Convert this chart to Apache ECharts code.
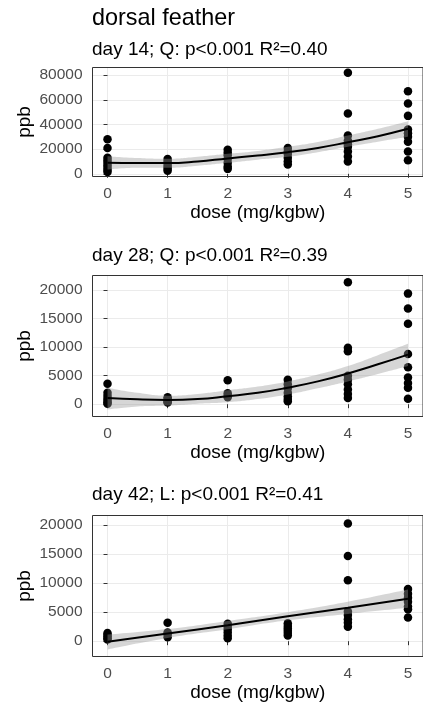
<!DOCTYPE html>
<html>
<head>
<meta charset="utf-8">
<script src="https://cdn.jsdelivr.net/npm/echarts@6/dist/echarts.min.js"></script>
<style>html,body{margin:0;padding:0;background:#fff}#c{width:423px;height:708px}</style>
</head>
<body>
<div id="c"></div>
<script>
// ---- data ----
const mainTitle = 'dorsal feather';
const panelTitles = ['day 14; Q: p<0.001 R²=0.40', 'day 28; Q: p<0.001 R²=0.39', 'day 42; L: p<0.001 R²=0.41'];
const doses = [0, 1, 2, 3, 4, 5];
const xTicks = [0, 1, 2, 3, 4, 5];
const yTicks14 = [0, 20000, 40000, 60000, 80000];
const yTicks28 = [0, 5000, 10000, 15000, 20000];
const yTicks42 = [0, 5000, 10000, 15000, 20000];

// observed values per dose (ppb)
const day14Values = [
  [28000, 21000, 13000, 11000, 9000, 7000, 5000, 3000, 1500],
  [12000, 10000, 8000, 6000, 4000, 2500],
  [19500, 17000, 15000, 12000, 9000, 6000, 4000],
  [21000, 18000, 16000, 13000, 10000, 7500],
  [82000, 49000, 31000, 27000, 24000, 22000, 18000, 14000, 10000],
  [67000, 57000, 47000, 36000, 33000, 30000, 26000, 18000, 11000]
];
const day28Values = [
  [3600, 2000, 1500, 1000, 600, 300, 100],
  [1200, 900, 600, 400, 300],
  [4200, 1900, 1500, 1200],
  [4300, 3500, 2800, 2000, 1400, 900, 500],
  [21400, 9900, 9300, 5000, 4300, 3500, 2600, 1800, 1100],
  [19400, 16800, 14100, 8800, 6500, 4700, 3700, 2900, 950]
];
const day42Values = [
  [1400, 1100, 800, 500, 300],
  [3200, 1500, 1200, 700],
  [3000, 2500, 2000, 1500, 1000, 500],
  [3100, 2600, 2200, 1800, 1400, 1000],
  [20300, 14700, 10500, 5100, 4500, 3800, 3200, 2500],
  [9000, 8200, 7500, 6800, 6000, 5500, 4100]
];

// fitted curves and confidence bands
const fitX = [0, 0.5, 1, 1.5, 2, 2.5, 3, 3.5, 4, 4.5, 5];
const day14Fit   = [8900, 8700, 8700, 10000, 12500, 14800, 17500, 21000, 25600, 30500, 36500];
const day14Lower = [3500, 5000, 4900, 6500, 8900, 11500, 13800, 17500, 21900, 26000, 30000];
const day14Upper = [14300, 12800, 12200, 13800, 16200, 18500, 21900, 25800, 31000, 36500, 42700];
const day28Fit   = [1100, 850, 750, 900, 1400, 2000, 2900, 4000, 5400, 7000, 8700];
const day28Lower = [-930, -400, -230, 100, 350, 900, 1700, 2800, 4000, 5300, 6700];
const day28Upper = [2900, 2000, 1500, 1800, 2450, 3100, 4000, 5200, 6700, 8600, 10600];
const fitX42 = [0, 1, 2, 3, 4, 5];
const day42Fit   = [-100, 1330, 2760, 4300, 5750, 7300];
const day42Lower = [-1430, 550, 2050, 3600, 4700, 5750];
const day42Upper = [1150, 2100, 3500, 5000, 6800, 8900];

// ---- layout / style ----
const FONT = 'Liberation Sans, Arial, sans-serif';
const panels = [
  {top: 67.5, height: 109, yMin: -2190, yMax: 86250, yTicks: yTicks14, values: day14Values, fx: fitX, fit: day14Fit, lo: day14Lower, hi: day14Upper, smooth: true, titleY: 49.4},
  {top: 275.5, height: 141, yMin: -2158, yMax: 22579, yTicks: yTicks28, values: day28Values, fx: fitX, fit: day28Fit, lo: day28Lower, hi: day28Upper, smooth: true, titleY: 255.3},
  {top: 515.5, height: 141, yMin: -2638, yMax: 21672, yTicks: yTicks42, values: day42Values, fx: fitX42, fit: day42Fit, lo: day42Lower, hi: day42Upper, smooth: true, titleY: 494.5}
];

const grid = [], xAxis = [], yAxis = [], series = [], graphic = [];
graphic.push({type: 'text', x: 92, y: 18.4, style: {text: mainTitle, fontSize: 23.4, fontFamily: FONT, fill: '#000', verticalAlign: 'middle'}});

panels.forEach((p, i) => {
  grid.push({left: 92.5, width: 337.5, top: p.top, height: p.height, show: true, z: 10,
    borderColor: '#333333', borderWidth: 1, backgroundColor: 'transparent'});
  graphic.push({type: 'text', x: 92, y: p.titleY, style: {text: panelTitles[i], fontSize: 19, fontFamily: FONT, fill: '#000', verticalAlign: 'middle'}});
  xAxis.push({gridIndex: i, type: 'value', min: -0.25, max: 5.25,
    name: 'dose (mg/kgbw)', nameLocation: 'middle', nameGap: 27, nameMoveOverlap: false,
    nameTextStyle: {fontSize: 19, color: '#000', fontFamily: FONT},
    axisLine: {show: false},
    axisTick: {show: true, length: 4, customValues: xTicks, lineStyle: {color: '#333'}},
    axisLabel: {customValues: xTicks, fontSize: 15.5, color: '#4d4d4d', fontFamily: FONT, margin: 9,
      formatter: v => String(v)},
    splitLine: {show: true, lineStyle: {color: '#ebebeb', width: 1}}
  });
  yAxis.push({gridIndex: i, type: 'value', min: p.yMin, max: p.yMax,
    name: 'ppb', nameLocation: 'middle', nameGap: 58, nameMoveOverlap: false,
    nameTextStyle: {fontSize: 19, color: '#000', fontFamily: FONT},
    axisLine: {show: false},
    axisTick: {show: true, length: 4, customValues: p.yTicks, lineStyle: {color: '#333'}},
    axisLabel: {customValues: p.yTicks, fontSize: 15.5, color: '#4d4d4d', fontFamily: FONT, margin: 10,
      formatter: v => String(v)},
    splitLine: {show: true, lineStyle: {color: '#ebebeb', width: 1}}
  });
  const pts = [];
  p.values.forEach((arr, k) => arr.forEach(v => pts.push([doses[k], v])));
  series.push({type: 'scatter', xAxisIndex: i, yAxisIndex: i, data: pts, symbolSize: 8.5,
    itemStyle: {color: '#000', opacity: 1}, z: 2, silent: true});
  // confidence band: value column first so that stacking applies to the value, not the dose
  series.push({type: 'line', xAxisIndex: i, yAxisIndex: i, stack: 'band' + i, stackStrategy: 'all',
    encode: {x: 1, y: 0},
    data: p.fx.map((x, k) => [p.lo[k], x]), smooth: p.smooth, showSymbol: false, symbol: 'none',
    lineStyle: {opacity: 0, width: 0}, z: 3, silent: true});
  series.push({type: 'line', xAxisIndex: i, yAxisIndex: i, stack: 'band' + i, stackStrategy: 'all',
    encode: {x: 1, y: 0},
    data: p.fx.map((x, k) => [p.hi[k] - p.lo[k], x]), smooth: p.smooth, showSymbol: false, symbol: 'none',
    lineStyle: {opacity: 0, width: 0}, areaStyle: {color: '#999999', opacity: 0.4}, z: 3, silent: true});
  series.push({type: 'line', xAxisIndex: i, yAxisIndex: i,
    data: p.fx.map((x, k) => [x, p.fit[k]]), smooth: p.smooth, showSymbol: false, symbol: 'none',
    lineStyle: {color: '#000', width: 2}, z: 4, silent: true});
});

const chart = echarts.init(document.getElementById('c'), null, {renderer: 'canvas'});
chart.setOption({animation: false, backgroundColor: '#fff', grid, xAxis, yAxis, series, graphic});
</script>
</body>
</html>
